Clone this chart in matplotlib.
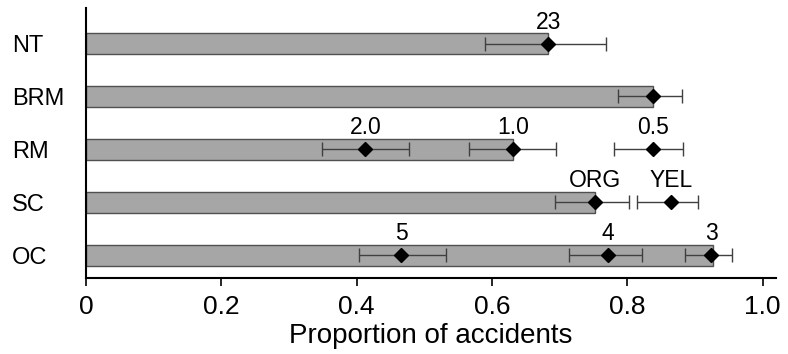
import numpy as np
from matplotlib import pyplot as plt

plt.rcParams['font.family'] = ['Liberation Sans', 'DejaVu Sans']

# rows from bottom to top
categories = ["OC", "SC", "RM", "BRM", "NT"]
bar_values = [0.927, 0.752, 0.631, 0.838, 0.683]

# point estimates with lower / upper limits, per row
point_row = [4, 3, 2, 2, 2, 1, 1, 0, 0, 0]
point_val = [0.683, 0.838, 0.413, 0.631, 0.838, 0.752, 0.865, 0.466, 0.771, 0.924]
point_lo = [0.590, 0.787, 0.349, 0.566, 0.780, 0.693, 0.815, 0.404, 0.714, 0.885]
point_hi = [0.769, 0.881, 0.477, 0.694, 0.882, 0.802, 0.905, 0.532, 0.822, 0.955]
point_lab = ["23", "", "2.0", "1.0", "0.5", "ORG", "YEL", "5", "4", "3"]

fig = plt.figure(figsize=(7.88, 3.54), dpi=100)
ax = fig.add_axes([0.109, 0.215, 0.876, 0.762])

y = np.arange(len(categories))
ax.barh(y, bar_values, height=0.4, color="#a6a6a6", edgecolor="#505050", linewidth=1.0, zorder=1)

pv = np.array(point_val)
err = np.array([pv - np.array(point_lo), np.array(point_hi) - pv])
ax.errorbar(pv, point_row, xerr=err, fmt="none", ecolor="#404040", elinewidth=1.0,
            capsize=5, capthick=1.0, zorder=2)
ax.plot(pv, point_row, "D", color="black", markersize=7, zorder=3)

for xv, r, lab in zip(point_val, point_row, point_lab):
    if lab:
        ax.text(xv, r + 0.19, lab, ha="center", va="bottom", fontsize=16.5)

ax.set_xlim(0, 1.02)
ax.set_ylim(-0.43, 4.67)
ax.set_xticks([0, 0.2, 0.4, 0.6, 0.8, 1.0])
ax.set_xticklabels(["0", "0.2", "0.4", "0.6", "0.8", "1.0"])
ax.set_yticks(y)
ax.set_yticklabels(categories)
ax.tick_params(axis="x", length=6, width=1.2, labelsize=19, pad=6)
ax.tick_params(axis="y", length=0, labelsize=17, pad=0)
for lab in ax.get_yticklabels():
    lab.set_horizontalalignment("left")
    lab.set_x(-0.107)
ax.spines["top"].set_visible(False)
ax.spines["right"].set_visible(False)
ax.spines["left"].set_linewidth(1.5)
ax.spines["bottom"].set_linewidth(1.5)
ax.set_xlabel("Proportion of accidents", fontsize=20, labelpad=3)

plt.savefig("out.png", dpi=100)
